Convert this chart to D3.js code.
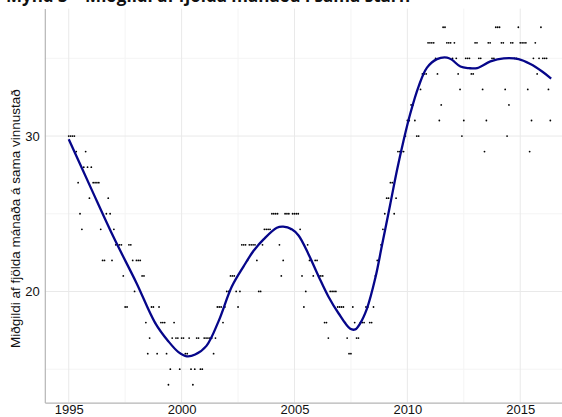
<!DOCTYPE html>
<html>
<head>
<meta charset="utf-8">
<script src="https://cdn.jsdelivr.net/npm/d3@7"></script>
<style>
  body { margin: 0; background: #fff; }
  svg { display: block; }
</style>
</head>
<body>
<div id="chart"></div>
<script>
// monthly medians, starting January 1995
const startYear = 1995;
const monthlyMedian = [
    30,30,30,30,29,27,25,24,28,29,28,26, // 1995
    28,27,27,27,27,24,22,22,25,26,25,22, // 1996
    24,23,23,23,23,21,19,19,23,23,22,20, // 1997
    22,22,22,21,21,18,16,17,19,19,18,16, // 1998
    19,18,18,18,16,14,15,17,18,17,17,15, // 1999
    17,17,16,16,17,15,14,15,17,17,15,15, // 2000
    17,17,17,17,17,16,17,19,19,19,18,19, // 2001
    20,20,21,21,21,20,19,20,23,23,23,22, // 2002
    23,23,23,23,22,20,20,23,24,24,24,24, // 2003
    25,25,25,25,23,21,22,25,25,25,24,25, // 2004
    25,25,25,24,21,19,20,23,22,22,21,22, // 2005
    22,21,21,21,18,18,17,20,20,20,20,19, // 2006
    19,19,19,18,17,16,16,19,18,17,17,18, // 2007
    18,18,19,19,18,18,19,21,22,22,23,24, // 2008
    25,26,26,27,27,25,26,29,29,29,29,30, // 2009
    31,31,32,32,31,30,30,33,34,34,34,36, // 2010
    36,36,36,35,34,31,32,37,37,36,36,36, // 2011
    35,36,35,34,33,30,31,35,35,35,34,34, // 2012
    36,36,35,35,33,29,31,36,36,35,35,37, // 2013
    37,37,36,36,33,30,32,36,36,35,35,37, // 2014
    36,36,36,36,33,29,31,35,36,34,35,37, // 2015
    35,35,35,33,31                        // 2016
];

// smoothed trend
const smoothYears = [1995, 1996, 1997, 1998, 1998.82, 1999.41, 1999.86, 2000.23, 2000.6, 2001.1,
    2001.63, 2002.22, 2002.74, 2003.18, 2003.63, 2004.22, 2004.5, 2004.88, 2005.18, 2005.62,
    2006.07, 2006.5, 2006.95, 2007.47, 2007.69, 2007.91, 2008.21, 2008.58, 2008.88, 2009.24,
    2009.54, 2009.83, 2010.13, 2010.5, 2010.87, 2011.31, 2011.76, 2011.98, 2012.35, 2012.72,
    2013.09, 2013.68, 2014.27, 2014.93, 2015.45, 2015.97, 2016.37];
const smoothValues = [29.8, 26.6, 23.45, 20.55, 18.0, 16.8, 16.1, 15.83, 15.94, 16.5,
    18.06, 20.3, 21.6, 22.6, 23.35, 24.1, 24.17, 24.0, 23.6, 22.4,
    20.97, 19.68, 18.6, 17.6, 17.56, 17.95, 18.9, 20.86, 23.0, 25.6,
    27.8, 29.7, 31.45, 33.2, 34.4, 34.95, 35.05, 34.9, 34.47, 34.37,
    34.37, 34.8, 35.0, 34.95, 34.63, 34.15, 33.7];

const xTicks = [1995, 2000, 2005, 2010, 2015];
const xMinor = [1997.5, 2002.5, 2007.5, 2012.5];
const yTicks = [20, 30];
const yMinor = [15, 25, 35];

const titleText = "Mynd 3 – Miðgildi af fjölda mánaða í sama starfi";
const yTitle = "Miðgildi af fjölda mánaða á sama vinnustað";

const width = 562, height = 417;
const panel = { left: 44.8, top: 8.6, right: 576, bottom: 402.6 };

const svg = d3.select("#chart").append("svg")
    .attr("width", width)
    .attr("height", height);

const x = d3.scaleLinear().domain([1993.94, 2017.47]).range([panel.left, panel.right]);
const y = d3.scaleLinear().domain([12.85, 38.2]).range([panel.bottom, panel.top]);

const points = monthlyMedian.map((v, i) => ({ t: startYear + i / 12, v: v }));
const smooth = smoothYears.map((t, i) => ({ t: t, v: smoothValues[i] }));

// gridlines
const grid = svg.append("g");
grid.selectAll(".xminor").data(xMinor).enter().append("line")
    .attr("x1", d => x(d)).attr("x2", d => x(d))
    .attr("y1", panel.top).attr("y2", panel.bottom)
    .attr("stroke", "#f4f4f4").attr("stroke-width", 1);
grid.selectAll(".yminor").data(yMinor).enter().append("line")
    .attr("x1", panel.left).attr("x2", panel.right)
    .attr("y1", d => y(d)).attr("y2", d => y(d))
    .attr("stroke", "#f4f4f4").attr("stroke-width", 1);
grid.selectAll(".xmajor").data(xTicks).enter().append("line")
    .attr("x1", d => x(d)).attr("x2", d => x(d))
    .attr("y1", panel.top).attr("y2", panel.bottom)
    .attr("stroke", "#e9e9e9").attr("stroke-width", 1);
grid.selectAll(".ymajor").data(yTicks).enter().append("line")
    .attr("x1", panel.left).attr("x2", panel.right)
    .attr("y1", d => y(d)).attr("y2", d => y(d))
    .attr("stroke", "#e9e9e9").attr("stroke-width", 1);

// points
svg.append("g").selectAll("circle")
    .data(points)
    .enter().append("circle")
    .attr("cx", d => x(d.t))
    .attr("cy", d => y(d.v))
    .attr("r", 0.9)
    .attr("fill", "#000");

// smooth line
const line = d3.line()
    .x(d => x(d.t))
    .y(d => y(d.v))
    .curve(d3.curveCatmullRom);
svg.append("path")
    .datum(smooth)
    .attr("d", line)
    .attr("fill", "none")
    .attr("stroke", "#06068a")
    .attr("stroke-width", 2.3);

// axes
const xAxis = svg.append("g")
    .attr("transform", `translate(0, ${panel.bottom})`)
    .call(d3.axisBottom(x).tickValues(xTicks).tickFormat(d3.format("d")).tickSize(0).tickPadding(2));
const yAxis = svg.append("g")
    .attr("transform", `translate(${panel.left}, 0)`)
    .call(d3.axisLeft(y).tickValues(yTicks).tickSize(0).tickPadding(5));
[xAxis, yAxis].forEach(a => {
    a.select(".domain").attr("stroke", "#b5b5b5").attr("stroke-width", 1.2);
    a.selectAll("text")
        .style("font-family", "Liberation Sans, Arial, sans-serif")
        .style("font-size", "13px")
        .attr("fill", "#111");
});

// y title
svg.append("text")
    .attr("transform", `translate(20, ${(panel.top + panel.bottom) / 2 + 13}) rotate(-90)`)
    .attr("text-anchor", "middle")
    .style("font-family", "Liberation Sans, Arial, sans-serif")
    .style("font-size", "13.5px")
    .attr("fill", "#111")
    .text(yTitle);

// title, cut off at the top edge
svg.append("text")
    .attr("x", 6)
    .attr("y", 2)
    .style("font-family", "Open Sans, sans-serif")
    .style("font-weight", "bold")
    .style("font-size", "17px")
    .attr("fill", "#111")
    .text(titleText);
</script>
</body>
</html>
